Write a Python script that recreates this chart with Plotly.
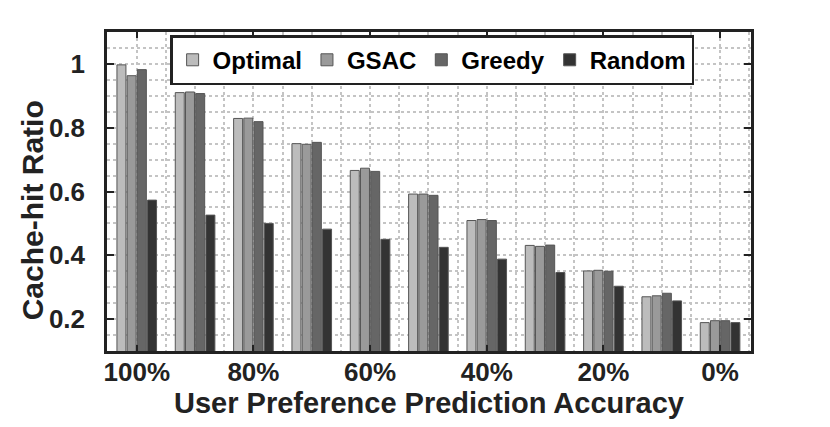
"""
Cache-hit ratio vs. user preference prediction accuracy
Grouped grey bars, MATLAB-like dotted grid
"""
import plotly.graph_objects as go

# Prediction accuracy categories (left to right)
accuracy = ['100%', '90%', '80%', '70%', '60%', '50%', '40%', '30%', '20%', '10%', '0%']

# Cache-hit ratio per scheme
optimal = [0.997, 0.910, 0.829, 0.750, 0.666, 0.592, 0.509, 0.431, 0.351, 0.270, 0.189]
gsac = [0.963, 0.912, 0.830, 0.748, 0.673, 0.592, 0.512, 0.428, 0.353, 0.273, 0.195]
greedy = [0.982, 0.907, 0.819, 0.754, 0.663, 0.588, 0.509, 0.432, 0.350, 0.281, 0.195]
random_hit = [0.573, 0.526, 0.500, 0.482, 0.450, 0.425, 0.388, 0.346, 0.303, 0.257, 0.189]

series_names = ['Optimal', 'GSAC', 'Greedy', 'Random']
series_colors = ['#bcbcbc', '#9a9a9a', '#666666', '#333333']

# only every other category gets a label
label_step = 2


def create_figure():
    x_pos = list(range(len(accuracy)))
    fig = go.Figure()

    for name, vals, color in zip(series_names, [optimal, gsac, greedy, random_hit], series_colors):
        fig.add_trace(go.Bar(
            x=x_pos,
            y=vals,
            name=name,
            marker=dict(color=color, line=dict(color='#555555', width=1)),
        ))

    font_family = 'Liberation Sans, Arial, Helvetica, sans-serif'
    text_color = '#222222'
    grid_color = '#c4c4c4'

    # page body has an 8px margin, so the figure is a bit smaller than the window
    fig.update_layout(
        template='none',
        width=822,
        height=419,
        margin=dict(l=99, r=79, t=24, b=76, autoexpand=False),
        barmode='group',
        bargap=0.30,
        bargroupgap=0.12,
        plot_bgcolor='white',
        paper_bgcolor='white',
        font=dict(family=font_family, color=text_color, size=24, weight='bold'),
        showlegend=True,
        legend=dict(
            orientation='h',
            x=0.098,
            y=0.99,
            xanchor='left',
            yanchor='top',
            bgcolor='white',
            bordercolor=text_color,
            borderwidth=2.5,
            font=dict(size=24, weight='bold', color='black'),
            itemwidth=30,
            tracegroupgap=0,
        ),
    )

    fig.update_xaxes(
        automargin=False,
        range=[-0.51, 10.53],
        tickmode='array',
        tickvals=x_pos[::label_step],
        ticktext=accuracy[::label_step],
        tickfont=dict(size=26, weight='bold'),
        ticklabelstandoff=-4,
        ticks='inside',
        ticklen=6,
        tickwidth=2,
        tickcolor=text_color,
        showline=True,
        linewidth=2.5,
        linecolor=text_color,
        mirror='ticks',
        showgrid=True,
        gridcolor=grid_color,
        gridwidth=1.5,
        griddash='dot',
        minor=dict(tickmode='linear', tick0=0, dtick=0.5, showgrid=True,
                   gridcolor=grid_color, gridwidth=1.5, griddash='dot', ticks=''),
        zeroline=False,
        title=dict(text='User Preference Prediction Accuracy',
                   font=dict(size=29, weight='bold'), standoff=3),
    )

    fig.update_yaxes(
        automargin=False,
        range=[0.1, 1.1],
        tickmode='linear',
        tick0=0.2,
        dtick=0.2,
        tickfont=dict(size=26, weight='bold'),
        ticklabelstandoff=14,
        ticks='inside',
        ticklen=7,
        tickwidth=2,
        tickcolor=text_color,
        showline=True,
        linewidth=2.5,
        linecolor=text_color,
        mirror='ticks',
        showgrid=True,
        gridcolor=grid_color,
        gridwidth=1.5,
        griddash='dot',
        minor=dict(tickmode='linear', tick0=0.1, dtick=0.05, showgrid=True,
                   gridcolor=grid_color, gridwidth=1.5, griddash='dot', ticks=''),
        zeroline=False,
    )

    # y title as a rotated annotation so it can sit at its own spot
    fig.add_annotation(
        text='Cache-hit Ratio',
        xref='paper', yref='paper',
        x=-0.116, y=0.442,
        xanchor='center', yanchor='middle',
        textangle=-90,
        showarrow=False,
        font=dict(size=30, weight='bold', color=text_color),
    )

    return fig


if __name__ == "__main__":
    fig = create_figure()
    fig.write_html("out.html")
